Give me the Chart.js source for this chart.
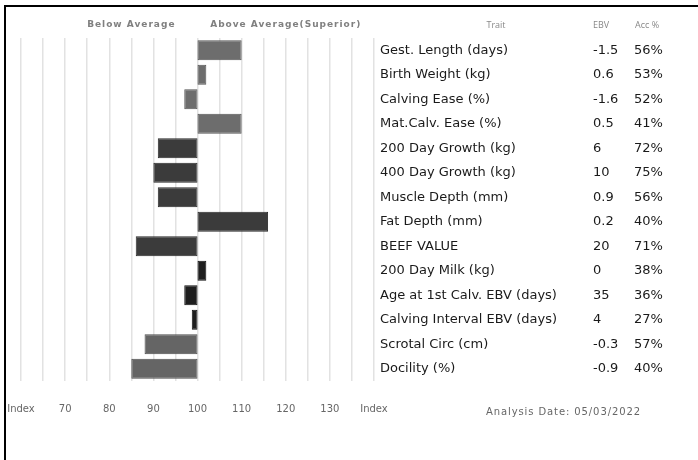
<!DOCTYPE html>
<html><head><meta charset="utf-8">
<script src="https://cdn.jsdelivr.net/npm/chart.js@4/dist/chart.umd.min.js"></script>
<style>
html,body{margin:0;padding:0;background:#fff;}
#wrap{position:relative;width:698px;height:460px;overflow:hidden;}
#frame{position:absolute;left:4px;top:5px;right:-4px;bottom:-4px;border-top:2px solid #000;border-left:2px solid #000;pointer-events:none;}
</style></head><body>
<div id="wrap"><canvas id="c" width="698" height="460"></canvas><div id="frame"></div></div>
<script>
const traits = ['Gest. Length (days)','Birth Weight (kg)','Calving Ease (%)','Mat.Calv. Ease (%)','200 Day Growth (kg)','400 Day Growth (kg)','Muscle Depth (mm)','Fat Depth (mm)','BEEF VALUE','200 Day Milk (kg)','Age at 1st Calv. EBV (days)','Calving Interval EBV (days)','Scrotal Circ (cm)','Docility (%)'];
const indexValues = [110, 102, 97, 110, 91, 90, 91, 116, 86, 102, 97, 98.7, 88, 85];
const ebvValues = ['-1.5','0.6','-1.6','0.5','6','10','0.9','0.2','20','0','35','4','-0.3','-0.9'];
const accuracy = ['56%','53%','52%','41%','72%','75%','56%','40%','71%','38%','36%','27%','57%','40%'];
const tickValues = [60, 70, 80, 90, 100, 110, 120, 130, 140];
const tickLabels = ['Index','70','80','90','100','110','120','130','Index'];
const columnHeaders = ['Trait','EBV','Acc %'];
const sideLabels = ['Below Average','Above Average(Superior)'];
const analysisDate = 'Analysis Date: 05/03/2022';
const baseline = 100;

const barColors = ['#6d6d6d','#6d6d6d','#6d6d6d','#6d6d6d','#3b3b3b','#3b3b3b','#3b3b3b','#3b3b3b','#3b3b3b','#1e1e1e','#1e1e1e','#1e1e1e','#656565','#656565'];
const borderColors = ['#555','#555','#555','#555','#2a2a2a','#2a2a2a','#2a2a2a','#2a2a2a','#2a2a2a','#111','#111','#111','#4e4e4e','#4e4e4e'];

const annotate = {
  id: 'annotate',
  afterDraw(chart) {
    const {ctx, scales: {x, y}} = chart;
    ctx.save();
    ctx.textBaseline = 'middle';
    // side labels
    ctx.font = 'bold 9px "DejaVu Sans"';
    ctx.fillStyle = '#808080';
    ctx.textAlign = 'center';
    ctx.letterSpacing = '1px';
    ctx.fillText(sideLabels[0], x.getPixelForValue(85), 25);
    ctx.fillText(sideLabels[1], x.getPixelForValue(120), 25);
    ctx.letterSpacing = '0px';
    // column headers
    ctx.font = '9px "Open Sans"';
    ctx.fillStyle = '#888';
    ctx.textAlign = 'center';
    ctx.fillText(columnHeaders[0], 496, 25);
    ctx.textAlign = 'left';
    ctx.fillText(columnHeaders[1], 593, 25);
    ctx.fillText(columnHeaders[2], 635, 25);
    // values
    ctx.font = '13px "DejaVu Sans"';
    ctx.fillStyle = '#1a1a1a';
    traits.forEach((t, i) => {
      const py = y.getPixelForValue(i);
      ctx.fillText(ebvValues[i], 593, py);
      ctx.fillText(accuracy[i], 634, py);
    });
    // analysis date
    ctx.font = '10px "DejaVu Sans"';
    ctx.letterSpacing = '0.9px';
    ctx.fillStyle = '#666';
    ctx.fillText(analysisDate, 486, 412);
    ctx.restore();
  }
};

new Chart(document.getElementById('c'), {
  type: 'bar',
  data: {
    labels: traits,
    datasets: [{
      data: indexValues.map(v => [baseline, v]),
      backgroundColor: barColors,
      borderColor: borderColors,
      borderWidth: 1,
      borderSkipped: false,
      barPercentage: 0.82,
      categoryPercentage: 1
    }]
  },
  options: {
    indexAxis: 'y',
    responsive: false,
    animation: false,
    devicePixelRatio: 1,
    layout: {padding: {left: 21, right: 0, top: 38, bottom: 0}},
    plugins: {legend: {display: false}, tooltip: {enabled: false}, title: {display: false}},
    scales: {
      x: {
        type: 'linear',
        min: 60, max: 140,
        afterFit: s => { s.height = 79; },
        border: {display: false},
        grid: {color: '#e2e2e2', lineWidth: 1.5, drawTicks: true, tickLength: 20, tickColor: 'rgba(0,0,0,0)'},
        ticks: {
          stepSize: 5, autoSkip: false, maxRotation: 0, padding: 2,
          color: '#666', font: {family: '"DejaVu Sans"', size: 10},
          callback: v => { const i = tickValues.indexOf(v); return i >= 0 ? tickLabels[i] : ''; }
        }
      },
      y: {
        type: 'category',
        position: 'right',
        afterFit: s => { s.width = 324; },
        border: {display: false},
        grid: {display: false, drawTicks: false},
        ticks: {padding: 6, color: '#1a1a1a', font: {family: '"DejaVu Sans"', size: 13}, autoSkip: false}
      }
    }
  },
  plugins: [annotate]
});
</script>
</body></html>
